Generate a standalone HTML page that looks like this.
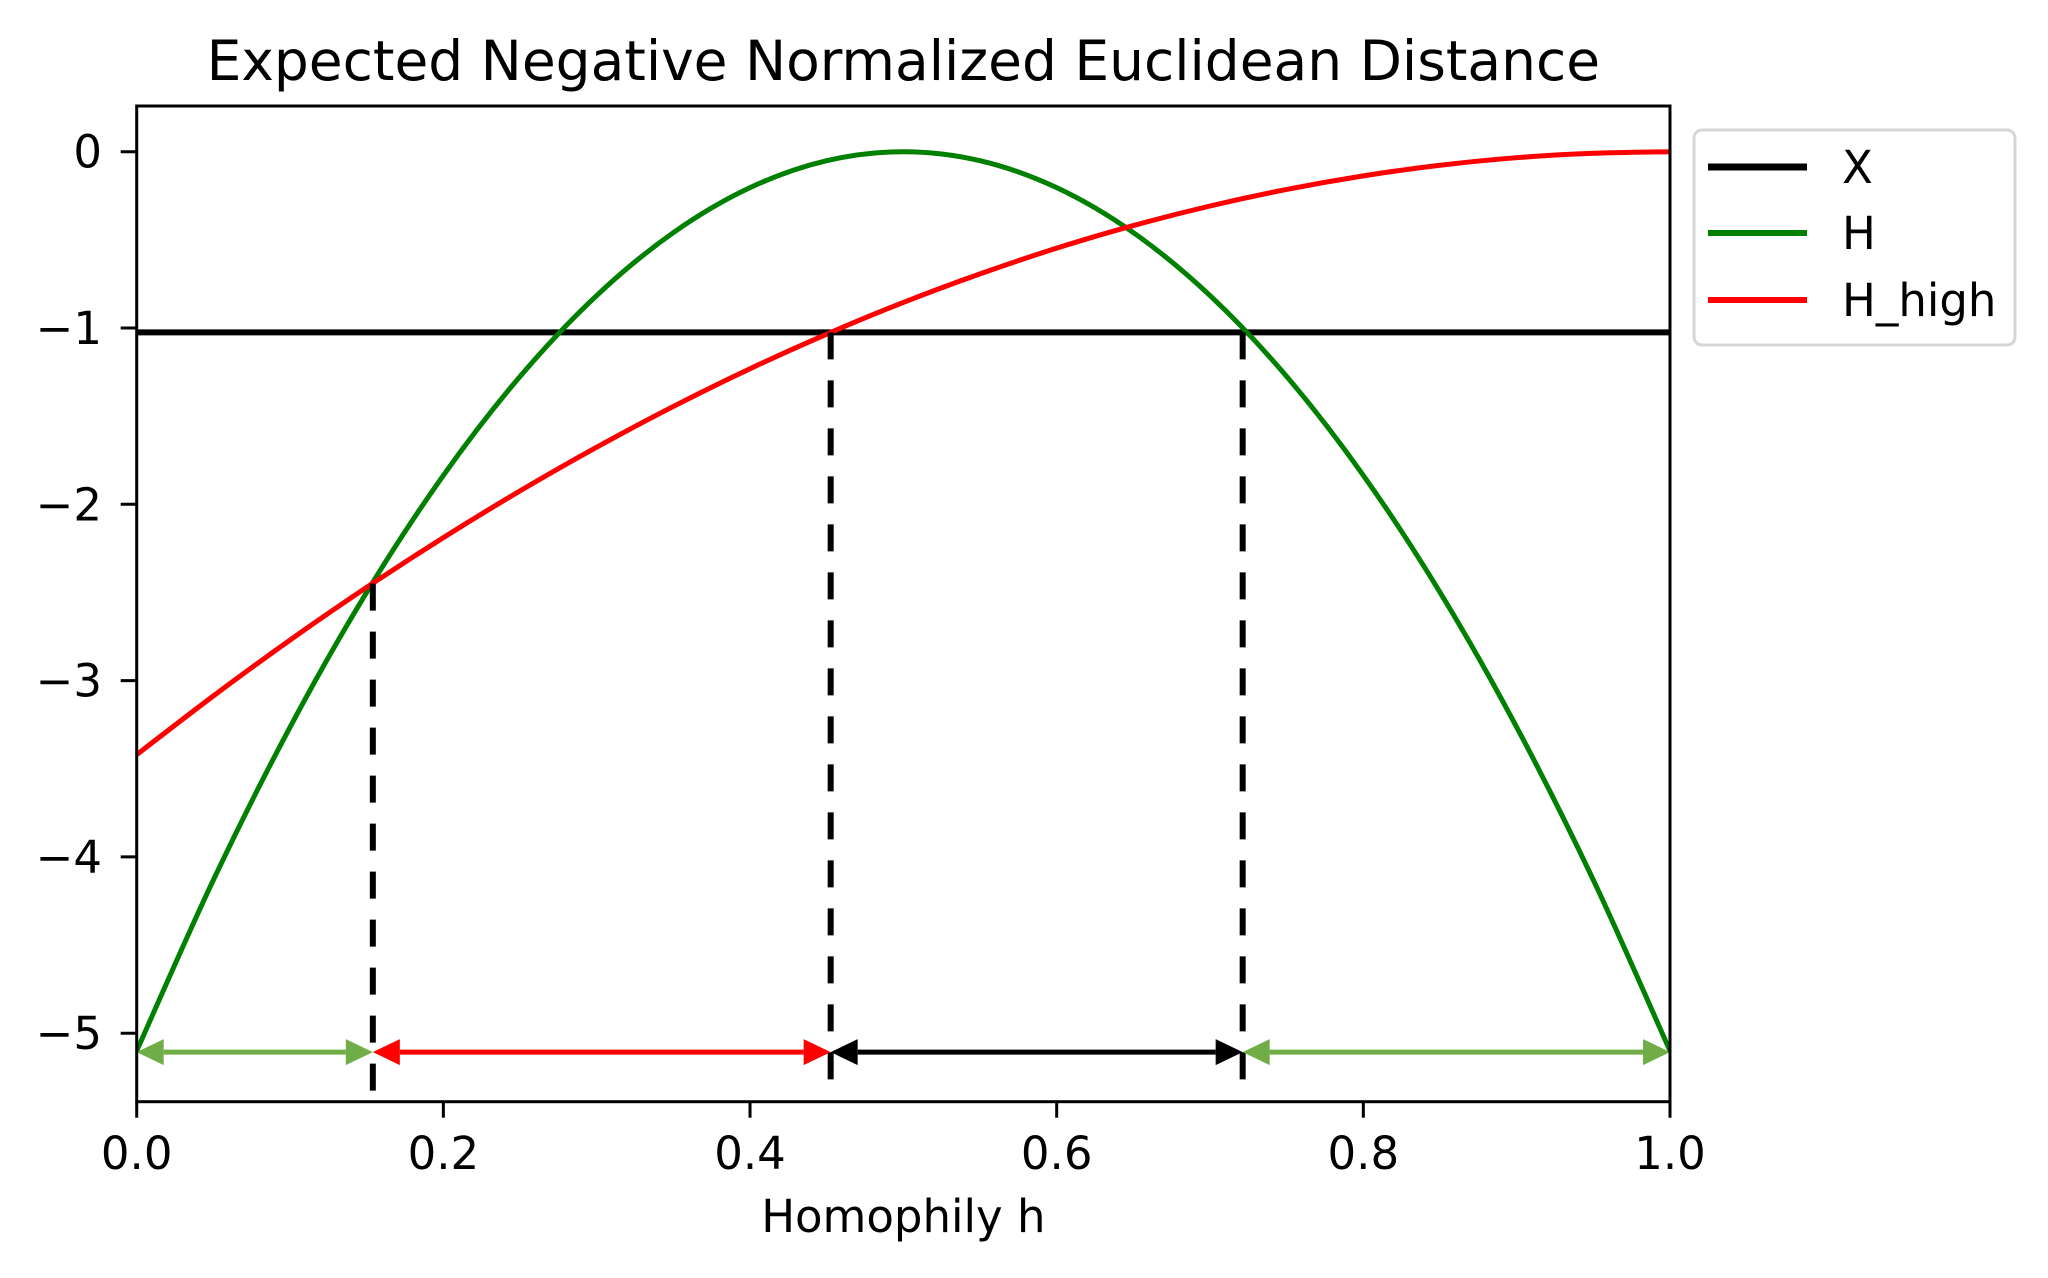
<!DOCTYPE html>
<html><head><meta charset="utf-8">
<style>
html,body{margin:0;padding:0;background:#fff;}
svg{display:block;font-family:"DejaVu Sans","Liberation Sans",sans-serif;}
</style></head>
<body>
<svg id="chart" width="2048" height="1278" viewBox="0 0 2048 1278" xmlns="http://www.w3.org/2000/svg">
<rect x="0" y="0" width="2048" height="1278" fill="#fff"/>
<g id="plot"></g>
</svg>
<script>
const hValues = [0,0.05,0.1,0.15,0.2,0.25,0.3,0.35,0.4,0.45,0.5,0.55,0.6,0.65,0.7,0.75,0.8,0.85,0.9,0.95,1];
const seriesH = [-5.1,-4.131,-3.264,-2.499,-1.836,-1.275,-0.816,-0.459,-0.204,-0.051,0,-0.051,-0.204,-0.459,-0.816,-1.275,-1.836,-2.499,-3.264,-4.131,-5.1];
const seriesHHigh = [-3.42,-3.087,-2.770,-2.471,-2.189,-1.924,-1.676,-1.445,-1.231,-1.035,-0.855,-0.693,-0.547,-0.419,-0.308,-0.214,-0.137,-0.077,-0.034,-0.009,0];
const seriesX = -1.025;
const crossPoints = [0.154,0.4526,0.7213];
const crossTops = [-2.45,-1.025,-1.025];
const arrowLevel = -5.107;
const arrowStarts = [0,0.154,0.4526,0.7213];
const arrowEnds = [0.154,0.4526,0.7213,1];
const arrowColors = ['#70ad47','#ff0000','#000000','#70ad47'];
const xTicks = [0,0.2,0.4,0.6,0.8,1.0];
const xTickLabels = ['0.0','0.2','0.4','0.6','0.8','1.0'];
const yTicks = [0,-1,-2,-3,-4,-5];
const yTickLabels = ['0','\u22121','\u22122','\u22123','\u22124','\u22125'];

const L=136.7,R=1670,T=106,B=1101.7;
const xMin=0,xMax=1,y0px=151.7,yPerUnit=176.3;
function sx(v){return L+(v-xMin)/(xMax-xMin)*(R-L);}
function sy(v){return y0px-v*yPerUnit;}
const NS='http://www.w3.org/2000/svg';
const g=document.getElementById('plot');
function mk(tag,attrs,parent){const e=document.createElementNS(NS,tag);for(const k in attrs)e.setAttribute(k,attrs[k]);(parent||g).appendChild(e);return e;}

const defs=mk('defs',{});
const cp=mk('clipPath',{id:'clip'},defs);
mk('rect',{x:L,y:T,width:R-L,height:B-T},cp);
const plotArea=mk('g',{'clip-path':'url(#clip)'});

function smoothPath(xs,ys){
  const p=xs.map((x,i)=>[sx(x),sy(ys[i])]);
  let d='M'+p[0][0].toFixed(2)+','+p[0][1].toFixed(2);
  for(let i=0;i<p.length-1;i++){
    const p0=p[Math.max(0,i-1)],p1=p[i],p2=p[i+1],p3=p[Math.min(p.length-1,i+2)];
    const c1=[p1[0]+(p2[0]-p0[0])/6,p1[1]+(p2[1]-p0[1])/6];
    const c2=[p2[0]-(p3[0]-p1[0])/6,p2[1]-(p3[1]-p1[1])/6];
    d+=' C'+c1[0].toFixed(2)+','+c1[1].toFixed(2)+' '+c2[0].toFixed(2)+','+c2[1].toFixed(2)+' '+p2[0].toFixed(2)+','+p2[1].toFixed(2);
  }
  return d;
}

let e;
e=mk('line',{x1:L,x2:R,y1:sy(seriesX),y2:sy(seriesX),stroke:'#000','stroke-width':6},plotArea);


e=mk('path',{d:smoothPath(hValues,seriesH),fill:'none',stroke:'#008000','stroke-width':5},plotArea);


e=mk('path',{d:smoothPath(hValues,seriesHHigh),fill:'none',stroke:'#ff0000','stroke-width':5},plotArea);



crossPoints.forEach((c,i)=>{
  const ln=mk('line',{x1:sx(c),x2:sx(c),y1:sy(crossTops[i]),y2:B-8,stroke:'#000','stroke-width':6,'stroke-dasharray':'27,21'},plotArea);
  
  
});

arrowStarts.forEach((s,i)=>{
  const a=sx(s),b=sx(arrowEnds[i]),y=sy(arrowLevel),col=arrowColors[i],hl=27,hw=13;
  const grp=mk('g',{},plotArea);
  
  
  mk('line',{x1:a+hl,x2:b-hl,y1:y,y2:y,stroke:col,'stroke-width':5},grp);
  mk('polygon',{points:`${a},${y} ${a+hl},${y-hw} ${a+hl},${y+hw}`,fill:col},grp);
  mk('polygon',{points:`${b},${y} ${b-hl},${y-hw} ${b-hl},${y+hw}`,fill:col},grp);
});

e=mk('rect',{x:L,y:T,width:R-L,height:B-T,fill:'none',stroke:'#000','stroke-width':3});



xTicks.forEach((t,i)=>{
  mk('line',{x1:sx(t),x2:sx(t),y1:B,y2:B+16,stroke:'#000','stroke-width':3});
  const tx=mk('text',{x:sx(t),y:1169,'font-size':45,'text-anchor':'middle',fill:'#000'});
  tx.textContent=xTickLabels[i];
  
  
});
yTicks.forEach((t,i)=>{
  mk('line',{x1:L-16,x2:L,y1:sy(t),y2:sy(t),stroke:'#000','stroke-width':3});
  const tx=mk('text',{x:102,y:sy(t)+16,'font-size':45,'text-anchor':'end',fill:'#000'});
  tx.textContent=yTickLabels[i];
  
  
});

e=mk('text',{x:(L+R)/2,y:80,'font-size':55,'text-anchor':'middle',fill:'#000'});
e.textContent='Expected Negative Normalized Euclidean Distance';


e=mk('text',{x:(L+R)/2,y:1232,'font-size':45,'text-anchor':'middle',fill:'#000'});
e.textContent='Homophily h';



const leg=mk('g',{});


mk('rect',{x:1694,y:130,width:321,height:215,rx:8,fill:'#fff',stroke:'#d6d6d6','stroke-width':3},leg);
const legNames=['X','H','H_high'],legCols=['#000','#008000','#ff0000'],legY=[167,233,300],legW=[7,6,6];
legNames.forEach((n,i)=>{
  const en=mk('g',{},leg);
  
  
  mk('line',{x1:1708,x2:1807,y1:legY[i],y2:legY[i],stroke:legCols[i],'stroke-width':legW[i]},en);
  const tx=mk('text',{x:1842,y:legY[i]+16,'font-size':45,fill:'#000'},en);
  tx.textContent=n;
});
</script>
</body></html>
